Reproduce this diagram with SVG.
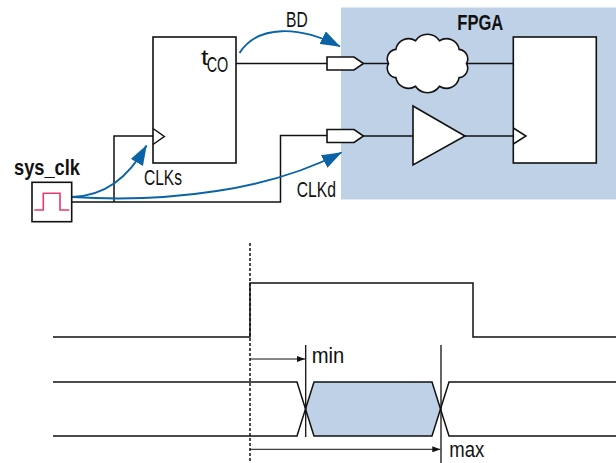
<svg xmlns="http://www.w3.org/2000/svg" width="616" height="463" viewBox="0 0 616 463">
<style>
.w{fill:none;stroke:#111;stroke-width:1.5}
.box{fill:#fff;stroke:#111;stroke-width:1.6}
.blue{fill:none;stroke:#0A63A6;stroke-width:1.9}
.t{font-family:"Liberation Sans Narrow","Liberation Sans",Arial,sans-serif;font-size:22.5px;fill:#111}
.b{font-weight:bold;font-size:22px}
</style>
<defs>
<marker id="ah" viewBox="0 0 20 14" refX="19.5" refY="7" markerWidth="20" markerHeight="14" markerUnits="userSpaceOnUse" orient="auto"><path d="M0,0 L20,7 L0,14 Z" fill="#0A63A6"/></marker>
<marker id="sa" viewBox="0 0 8 6" refX="8" refY="3" markerWidth="8" markerHeight="6" markerUnits="userSpaceOnUse" orient="auto"><path d="M0,0 L8,3 L0,6 Z" fill="#111"/></marker>
</defs>

<rect id="fpga-region" x="341" y="7.5" width="275" height="192" fill="#BFD1E7"/>

<g id="connectors">
<path class="w" d="M236,63.5 H327"/>
<path class="w" d="M153,136 H114 V202"/>
<path class="w" d="M72,202 H280.5 V135.5 H327"/>
<path class="w" d="M363.5,63.5 H388.5"/>
<path class="w" d="M466.5,63.5 H513"/>
<path class="w" d="M363.5,136 H413"/>
<path class="w" d="M465,136 H513"/>
<path class="blue" d="M72,197 C105,196 128,178 146.5,145.5" marker-end="url(#ah)"/>
<path class="blue" d="M163,123 C162,108 184,91 201,76" marker-end="url(#ah)"/>
<path class="blue" d="M239.5,53 C258,24 300,26 340,46.5" marker-end="url(#ah)"/>
<path class="blue" d="M72,197 C170,203 270,190 341.5,152.5" marker-end="url(#ah)"/>
</g>

<g id="sys_clk">
<rect class="box" x="32" y="182.3" width="39.7" height="39.4"/>
<path d="M34.3,210 H43.3 V193.3 H60 V210 H69.3" fill="none" stroke="#E63A6E" stroke-width="1.6"/>
<text class="t b" x="14" y="175" textLength="66" lengthAdjust="spacingAndGlyphs">sys_clk</text>
</g>

<g id="ff1">
<rect class="box" x="153" y="37" width="83" height="126"/>
<polyline class="w" points="153,128.5 164.3,136.5 153,144.5"/>
<text class="t" x="201" y="65" textLength="7.5" lengthAdjust="spacingAndGlyphs">t</text>
<text class="t" x="206.7" y="71.7" textLength="21.6" lengthAdjust="spacingAndGlyphs">CO</text>
</g>

<g id="labels">
<text class="t" x="286" y="26.7" textLength="21.7" lengthAdjust="spacingAndGlyphs">BD</text>
<text class="t" x="144" y="185" textLength="38" lengthAdjust="spacingAndGlyphs">CLKs</text>
<text class="t" x="296.7" y="197" textLength="39.3" lengthAdjust="spacingAndGlyphs">CLKd</text>
<text class="t b" x="457.3" y="30" textLength="46" lengthAdjust="spacingAndGlyphs">FPGA</text>
</g>

<g id="ibuf1">
<polygon class="box" points="327,57 354,57 363.5,63.5 354,70 327,70"/>
</g>
<g id="ibuf2">
<polygon class="box" points="327,129.5 354,129.5 363.5,136 354,142.5 327,142.5"/>
</g>

<g id="cloud">
<path class="box" d="M388.5,63.5 A9.5,9.5 0 0 1 395.9,49.4 A12.9,12.9 0 0 1 415.5,40.7 A14.4,14.4 0 0 1 439.5,40.7 A12.9,12.9 0 0 1 459.1,49.4 A9.5,9.5 0 0 1 466.5,63.5 A9.5,9.5 0 0 1 459.1,77.6 A12.9,12.9 0 0 1 439.5,86.3 A14.4,14.4 0 0 1 415.5,86.3 A12.9,12.9 0 0 1 395.9,77.6 A9.5,9.5 0 0 1 388.5,63.5 Z"/>
</g>

<g id="amp">
<polygon class="box" points="413,106 465,136 413,165"/>
</g>

<g id="ff2">
<rect class="box" x="513.3" y="37" width="83" height="126"/>
<polyline class="w" points="513.3,128 526,136 513.3,144"/>
</g>

<g id="timing">
<line x1="250" y1="243" x2="250" y2="463" stroke="#111" stroke-width="1.5" stroke-dasharray="3,2"/>
<polyline class="w" points="53,337 250,337 250,283 473,283 473,337 616,337"/>
<polygon points="305.5,409 314,382 432,382 440.5,409 432,436 314,436" fill="#BFD1E7"/>
<path class="w" d="M53,382 H297 L314,436 H432 L449,382 H616"/>
<path class="w" d="M53,436 H297 L314,382 H432 L449,436 H616"/>
<line x1="305.7" y1="345" x2="305.7" y2="437" stroke="#111" stroke-width="1.3"/>
<line x1="441" y1="345" x2="441" y2="463" stroke="#111" stroke-width="1.3"/>
<line x1="250" y1="359" x2="305" y2="359" stroke="#111" stroke-width="1" marker-end="url(#sa)"/>
<line x1="250" y1="449.3" x2="440.3" y2="449.3" stroke="#111" stroke-width="1" marker-end="url(#sa)"/>
<text class="t" x="311.7" y="363.3" textLength="32.6" lengthAdjust="spacingAndGlyphs">min</text>
<text class="t" x="449.3" y="456.7" textLength="35" lengthAdjust="spacingAndGlyphs">max</text>
</g>
</svg>
